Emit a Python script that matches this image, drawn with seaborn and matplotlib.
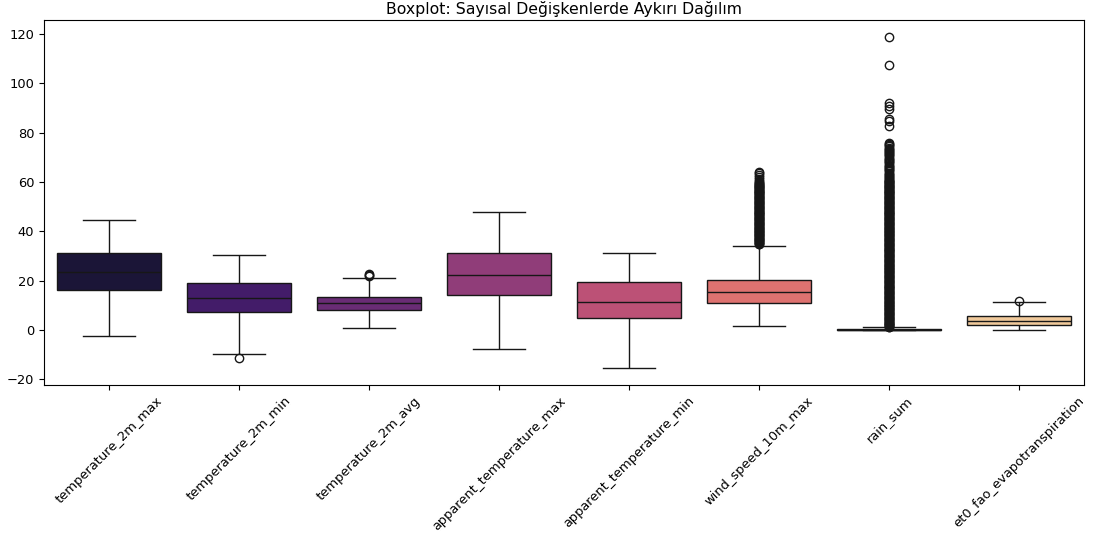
import numpy as np
import pandas as pd
import matplotlib
matplotlib.use("Agg")
import matplotlib.pyplot as plt
import seaborn as sns

# Variables shown on the x axis
variables = [
    "temperature_2m_max",
    "temperature_2m_min",
    "temperature_2m_avg",
    "apparent_temperature_max",
    "apparent_temperature_min",
    "wind_speed_10m_max",
    "rain_sum",
    "et0_fao_evapotranspiration",
]

# Five-number summaries: lower whisker, Q1, median, Q3, upper whisker
whisker_low = [-2.5, -9.7, 0.8, -7.9, -15.4, 1.5, 0.0, 0.15]
q1 = [16.2, 7.2, 8.0, 14.3, 5.0, 10.9, 0.0, 1.9]
median = [23.4, 12.9, 10.9, 22.2, 11.3, 15.5, 0.0, 3.6]
q3 = [31.0, 19.1, 13.3, 31.3, 19.6, 20.4, 0.4, 5.8]
whisker_high = [44.4, 30.5, 21.2, 47.8, 31.3, 34.2, 1.0, 11.4]

# Outlying observations per variable
outliers_temp_max = []
outliers_temp_min = [-11.3]
outliers_temp_avg = [22.0, 22.4, 22.8]
outliers_app_max = []
outliers_app_min = []
outliers_wind = [
    64.2, 63.5, 62.8, 61.9, 61.2, 60.4, 59.9, 59.6, 59.3,
    59.0, 58.8, 58.5, 58.3, 58.0, 57.8, 57.5, 57.3, 57.0, 56.8,
    56.5, 56.3, 56.0, 55.8, 55.5, 55.3, 55.0, 54.8, 54.5, 54.3,
    54.0, 53.8, 53.5, 53.3, 53.0, 52.8, 52.5, 52.3, 52.0, 51.8,
    51.5, 51.3, 51.0, 50.8, 50.5, 50.3, 50.0, 49.8, 49.5, 49.3,
    49.0, 48.8, 48.5, 48.3, 48.0, 47.8, 47.5, 47.3, 47.0, 46.8,
    46.5, 46.3, 46.0, 45.8, 45.5, 45.3, 45.0, 44.8, 44.5, 44.3,
    44.0, 43.8, 43.5, 43.3, 43.0, 42.8, 42.5, 42.3, 42.0, 41.8,
    41.5, 41.3, 41.0, 40.8, 40.5, 40.3, 40.0, 39.8, 39.5, 39.3,
    39.0, 38.8, 38.5, 38.3, 38.0, 37.8, 37.5, 37.3, 37.0, 36.8,
    36.5, 36.3, 36.0, 35.8, 35.5, 35.3, 35.0, 34.8,
]
outliers_rain = [
    118.9, 107.4, 91.8, 90.6, 89.5, 85.5, 84.6, 82.8,
    75.8, 75.3, 74.9, 74.4, 73.9, 73.5, 73.0, 72.6, 72.1, 71.6,
    71.2, 70.7, 70.3, 69.8, 69.3, 68.9, 68.4, 68.0, 67.5, 67.0,
    66.6, 66.1, 65.7, 65.2, 64.7, 64.3, 63.8, 63.4, 62.9, 62.4,
    62.0, 61.5, 61.1,
    60.8, 60.5, 60.3, 60.0, 59.8, 59.5, 59.3, 59.0, 58.8, 58.5,
    58.3, 58.0, 57.8, 57.5, 57.3, 57.0, 56.8, 56.5, 56.3, 56.0,
    55.8, 55.5, 55.3, 55.0, 54.8, 54.5, 54.3, 54.0, 53.8, 53.5,
    53.3, 53.0, 52.8, 52.5, 52.3, 52.0, 51.8, 51.5, 51.3, 51.0,
    50.8, 50.5, 50.3, 50.0, 49.8, 49.5, 49.3, 49.0, 48.8, 48.5,
    48.3, 48.0, 47.8, 47.5, 47.3, 47.0, 46.8, 46.5, 46.3, 46.0,
    45.8, 45.5, 45.3, 45.0, 44.8, 44.5, 44.3, 44.0, 43.8, 43.5,
    43.3, 43.0, 42.8, 42.5, 42.3, 42.0, 41.8, 41.5, 41.3, 41.0,
    40.8, 40.5, 40.3, 40.0, 39.8, 39.5, 39.3, 39.0, 38.8, 38.5,
    38.3, 38.0, 37.8, 37.5, 37.3, 37.0, 36.8, 36.5, 36.3, 36.0,
    35.8, 35.5, 35.3, 35.0, 34.8, 34.5, 34.3, 34.0, 33.8, 33.5,
    33.3, 33.0, 32.8, 32.5, 32.3, 32.0, 31.8, 31.5, 31.3, 31.0,
    30.8, 30.5, 30.3, 30.0, 29.8, 29.5, 29.3, 29.0, 28.8, 28.5,
    28.3, 28.0, 27.8, 27.5, 27.3, 27.0, 26.8, 26.5, 26.3, 26.0,
    25.8, 25.5, 25.3, 25.0, 24.8, 24.5, 24.3, 24.0, 23.8, 23.5,
    23.3, 23.0, 22.8, 22.5, 22.3, 22.0, 21.8, 21.5, 21.3, 21.0,
    20.8, 20.5, 20.3, 20.0, 19.8, 19.5, 19.3, 19.0, 18.8, 18.5,
    18.3, 18.0, 17.8, 17.5, 17.3, 17.0, 16.8, 16.5, 16.3, 16.0,
    15.8, 15.5, 15.3, 15.0, 14.8, 14.5, 14.3, 14.0, 13.8, 13.5,
    13.3, 13.0, 12.8, 12.5, 12.3, 12.0, 11.8, 11.5, 11.3, 11.0,
    10.8, 10.5, 10.3, 10.0, 9.8, 9.5, 9.3, 9.0, 8.8, 8.5,
    8.3, 8.0, 7.8, 7.5, 7.3, 7.0, 6.8, 6.5, 6.3, 6.0,
    5.8, 5.5, 5.3, 5.0, 4.8, 4.5, 4.3, 4.0, 3.8, 3.5,
    3.3, 3.0, 2.8, 2.5, 2.3, 2.0, 1.8, 1.5, 1.3, 1.1,
]
outliers_et0 = [11.8]

outliers = [
    outliers_temp_max, outliers_temp_min, outliers_temp_avg, outliers_app_max,
    outliers_app_min, outliers_wind, outliers_rain, outliers_et0,
]

# Build a long-form table whose quartiles and whiskers reproduce the summaries
REPEAT = 600
rows = []
for i, name in enumerate(variables):
    vals = ([whisker_low[i]] + [q1[i]] * REPEAT + [median[i]] * REPEAT
            + [q3[i]] * REPEAT + [whisker_high[i]] + list(outliers[i]))
    rows.extend((name, v) for v in vals)
df = pd.DataFrame(rows, columns=["variable", "value"])

fig = plt.figure(figsize=(10.95, 5.37), dpi=100)
ax = fig.add_axes([44 / 1095, 1 - 384.5 / 537, 1040 / 1095, 364.5 / 537])

sns.boxplot(data=df, x="variable", y="value", hue="variable",
            palette="magma", legend=False, ax=ax)

ax.set_title("Boxplot: Sayısal Değişkenlerde Aykırı Dağılım", fontsize=11.3, pad=4.5)
ax.set_xlabel("")
ax.set_ylabel("")
ax.tick_params(axis="both", labelsize=9.4)
plt.setp(ax.get_xticklabels(), rotation=45)

fig.savefig("out.png", dpi=100)
